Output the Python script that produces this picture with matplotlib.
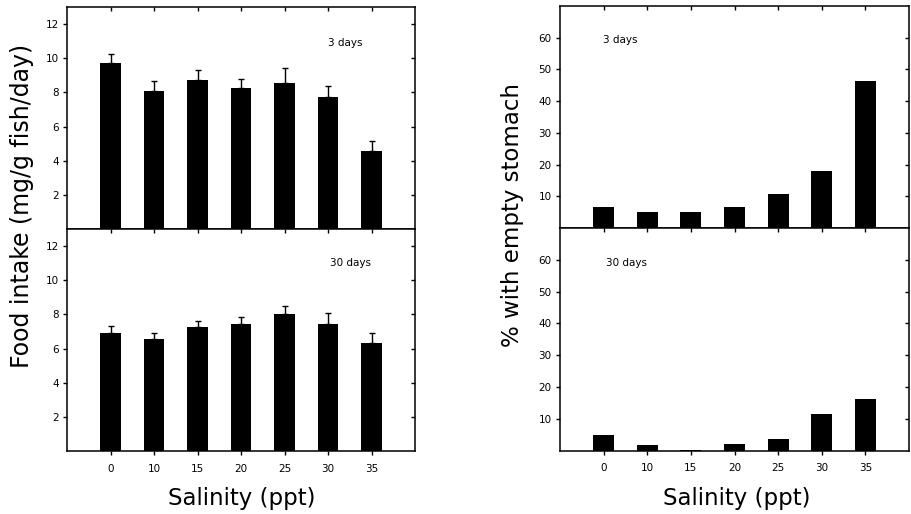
import matplotlib
matplotlib.use("Agg")
import matplotlib.pyplot as plt
import numpy as np

salinity = ["0", "10", "15", "20", "25", "30", "35"]
intake_3d = [9.73, 8.11, 8.71, 8.25, 8.54, 7.74, 4.58]
intake_3d_err = [0.54, 0.54, 0.59, 0.52, 0.89, 0.62, 0.58]
intake_30d = [6.92, 6.57, 7.25, 7.41, 8.02, 7.45, 6.35]
intake_30d_err = [0.39, 0.35, 0.38, 0.45, 0.47, 0.61, 0.57]
empty_3d = [6.5, 5.1, 5.1, 6.6, 10.7, 18.0, 46.2]
empty_30d = [4.9, 1.6, 0.3, 1.9, 3.7, 11.4, 16.1]

plt.rcParams['font.family'] = ['DejaVu Sans']

fig = plt.figure(figsize=(9.11, 5.14), dpi=100)
W, H = 911, 514

def ax_at(x0, y0, x1, y1):
    return fig.add_axes([x0 / W, 1 - y1 / H, (x1 - x0) / W, (y1 - y0) / H])

axLU = ax_at(67, 7, 415, 229)
axLL = ax_at(67, 229, 415, 451)
axRU = ax_at(560, 6, 909, 228)
axRL = ax_at(560, 228, 909, 450.5)

x = np.arange(len(salinity))
bw = 0.48

def style(ax, ymax, yticks, show_x):
    ax.set_xlim(-1, 7)
    ax.set_ylim(0, ymax)
    ax.set_xticks(x)
    ax.set_yticks(yticks)
    for s in ax.spines.values():
        s.set_linewidth(1.1)
    ax.yaxis.set_ticks_position('both')
    ax.tick_params(axis='y', length=3, width=1, labelsize=7.5, pad=3)
    ax.tick_params(axis='x', top=True, bottom=True, length=3, width=1, labelsize=7.5, pad=6)
    if show_x:
        ax.set_xticklabels(salinity)
    else:
        ax.set_xticklabels([])

def fix_ticks(ax):
    for t in ax.yaxis.get_major_ticks():
        t.tick1line.set_marker(matplotlib.lines.TICKLEFT)
        t.tick2line.set_marker(matplotlib.lines.TICKLEFT)
    for t in ax.xaxis.get_major_ticks():
        t.tick1line.set_marker(matplotlib.lines.TICKDOWN)
        t.tick2line.set_marker(matplotlib.lines.TICKDOWN)

err_kw = dict(elinewidth=1, capsize=2.5, capthick=1, ecolor='black')

axLU.bar(x, intake_3d, bw, color='black',
         yerr=[np.zeros(len(x)), intake_3d_err], error_kw=err_kw)
axLL.bar(x, intake_30d, bw, color='black',
         yerr=[np.zeros(len(x)), intake_30d_err], error_kw=err_kw)
axRU.bar(x, empty_3d, bw, color='black')
axRL.bar(x, empty_30d, bw, color='black')

style(axLU, 13, [2, 4, 6, 8, 10, 12], False)
style(axLL, 13, [2, 4, 6, 8, 10, 12], True)
style(axRU, 70, [10, 20, 30, 40, 50, 60], False)
style(axRL, 70, [10, 20, 30, 40, 50, 60], True)
for a in (axLU, axLL, axRU, axRL):
    fix_ticks(a)

axLU.text(328 / W, 1 - 43 / H, "3 days", transform=fig.transFigure, fontsize=7.5, va='center')
axLL.text(330 / W, 1 - 263 / H, "30 days", transform=fig.transFigure, fontsize=7.5, va='center')
axRU.text(603 / W, 1 - 40 / H, "3 days", transform=fig.transFigure, fontsize=7.5, va='center')
axRL.text(606 / W, 1 - 262.5 / H, "30 days", transform=fig.transFigure, fontsize=7.5, va='center')

fig.text(22 / W, 1 - 206 / H, "Food intake (mg/g fish/day)", rotation=90,
         fontsize=17, ha='center', va='center')
fig.text(512 / W, 1 - 215 / H, "% with empty stomach", rotation=90,
         fontsize=16.5, ha='center', va='center')
fig.text(242 / W, 1 - 498 / H, "Salinity (ppt)", fontsize=16.5, ha='center', va='center')
fig.text(737 / W, 1 - 498 / H, "Salinity (ppt)", fontsize=16.5, ha='center', va='center')

fig.savefig("out.png", dpi=100)
